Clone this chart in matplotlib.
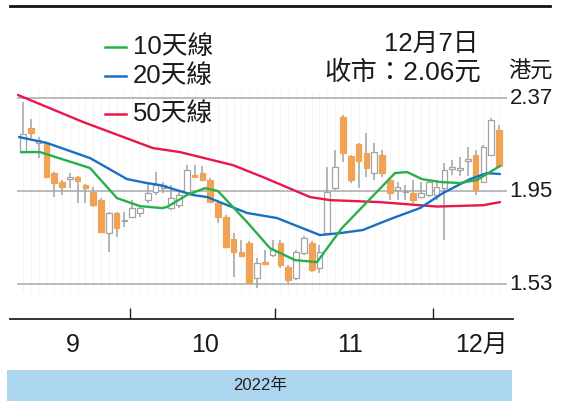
import matplotlib
matplotlib.use("Agg")
import matplotlib.pyplot as plt
from matplotlib.patches import Rectangle
from matplotlib.lines import Line2D

plt.rcParams['font.family'] = ['Liberation Sans', 'Noto Sans CJK TC', 'DejaVu Sans']

# ---- data ----
opens = [2.126, 2.234, 2.167, 2.167, 2.031, 1.991, 2.004, 2.013, 1.977, 1.945,
         1.909, 1.760, 1.851, 1.814, 1.833, 1.851, 1.909, 1.945, 1.963, 1.873,
         1.887, 1.945, 2.022, 2.031, 2.000, 1.896, 1.833, 1.733, 1.674, 1.715,
         1.557, 1.629, 1.661, 1.715, 1.607, 1.557, 1.670, 1.715, 1.602, 1.760,
         1.963, 2.284, 2.108, 2.162, 2.122, 2.031, 2.113, 2.000, 1.954, 1.945,
         1.941, 1.923, 1.932, 1.932, 1.963, 2.052, 2.048, 2.088, 2.113, 1.991,
         2.113, 2.225]
highs = [2.352, 2.275, 2.194, 2.171, 2.035, 2.000, 2.031, 2.017, 1.982, 1.968,
         1.918, 1.855, 1.855, 1.855, 1.909, 1.887, 1.991, 2.036, 1.991, 1.977,
         1.954, 2.067, 2.067, 2.063, 2.009, 1.900, 1.842, 1.760, 1.729, 1.724,
         1.647, 1.683, 1.729, 1.729, 1.616, 1.683, 1.747, 1.724, 1.706, 2.058,
         2.135, 2.293, 2.113, 2.167, 2.212, 2.167, 2.135, 2.009, 1.991, 1.977,
         2.000, 1.991, 2.000, 2.000, 2.076, 2.090, 2.104, 2.149, 2.135, 2.158,
         2.280, 2.248]
lows = [2.122, 2.189, 2.099, 2.009, 1.923, 1.932, 1.963, 1.896, 1.896, 1.878,
        1.760, 1.674, 1.742, 1.787, 1.828, 1.833, 1.896, 1.932, 1.941, 1.864,
        1.873, 1.932, 2.009, 2.000, 1.900, 1.805, 1.692, 1.562, 1.652, 1.530,
        1.512, 1.616, 1.652, 1.602, 1.534, 1.548, 1.661, 1.584, 1.580, 1.751,
        1.954, 2.081, 1.986, 1.963, 2.013, 2.000, 2.013, 1.909, 1.909, 1.909,
        1.896, 1.918, 1.923, 1.909, 1.729, 2.022, 2.018, 2.018, 1.932, 1.986,
        2.108, 2.060]
closes = [2.207, 2.212, 2.180, 2.013, 1.986, 1.968, 2.013, 1.995, 1.963, 1.887,
          1.765, 1.851, 1.783, 1.819, 1.873, 1.873, 1.941, 1.977, 1.977, 1.918,
          1.932, 2.045, 2.013, 2.000, 1.900, 1.833, 1.697, 1.674, 1.656, 1.534,
          1.625, 1.620, 1.683, 1.616, 1.548, 1.674, 1.738, 1.593, 1.674, 1.945,
          2.058, 2.122, 2.000, 2.085, 2.054, 2.126, 2.031, 1.941, 1.968, 1.950,
          1.909, 1.941, 1.991, 1.968, 2.045, 2.056, 2.052, 2.092, 1.954, 2.149,
          2.271, 2.063]

# moving-average lines: (candle position, price) points
ma10_x = [-0.26, 2.18, 8.59, 12.05, 14.99, 17.81, 18.45, 21.02, 23.32, 24.99,
          28.71, 31.65, 34.86, 37.68, 40.88, 47.67, 49.21, 51.13, 53.44, 56.0,
          58.18, 61.13]
ma10_y = [2.126, 2.126, 2.054, 1.918, 1.882, 1.873, 1.878, 1.932, 1.963, 1.950,
          1.810, 1.692, 1.638, 1.629, 1.783, 2.031, 2.036, 2.004, 1.991, 1.986,
          2.000, 2.063]
ma20_x = [-0.51, 3.08, 8.59, 13.33, 15.89, 17.56, 19.74, 21.79, 23.58, 28.71,
          32.55, 38.06, 40.63, 43.57, 45.75, 47.42, 50.88, 53.83, 57.29, 59.47,
          61.13]
ma20_y = [2.194, 2.167, 2.099, 2.004, 1.986, 1.977, 1.954, 1.932, 1.923, 1.851,
          1.828, 1.751, 1.760, 1.774, 1.805, 1.828, 1.873, 1.941, 2.004, 2.031,
          2.027]
ma50_x = [-0.64, 7.69, 16.66, 20.12, 26.91, 30.76, 36.78, 39.34, 45.75, 53.06,
          58.95, 61.13]
ma50_y = [2.384, 2.262, 2.144, 2.126, 2.067, 2.013, 1.923, 1.909, 1.900, 1.880,
          1.886, 1.900]

y_ticks = [2.37, 1.95, 1.53]
y_tick_labels = ["2.37", "1.95", "1.53"]
month_tick_pos = [13.71, 32.29, 52.54]
month_label_pos = [6.4, 23.3, 41.9, 58.8]
month_labels = ["9", "10", "11", "12月"]
legend_labels = ["10天線", "20天線", "50天線"]

# ---- figure ----
W, H = 565, 401
fig = plt.figure(figsize=(W / 100, H / 100), dpi=100)
fig.patch.set_facecolor('white')

def fx(x):
    return x / W

def fy(y):
    return 1 - y / H

ax = fig.add_axes([fx(10), fy(319), fx(513) - fx(10), fy(60) - fy(319)])
ax.set_xlim(-1.666, 62.80)
ax.set_ylim(1.372, 2.542)
for s in ['top', 'left', 'right']:
    ax.spines[s].set_visible(False)
ax.spines['bottom'].set_linewidth(1.3)
ax.spines['bottom'].set_color('#222222')
ax.set_yticks([])
ax.set_xticks(month_tick_pos)
ax.set_xticklabels([])
ax.tick_params(axis='x', direction='in', length=8, width=1.0, color='#222222')

n = len(opens)
idx = list(range(n))

# faint vertical grid at each candle
ax.vlines(idx, 1.50, 2.40, color='#f5f5f5', lw=0.8, zorder=0)
# horizontal reference lines
ax.hlines(y_ticks, -0.8, 62.0, color='#a8a8a8', lw=1.1, zorder=1)

# wicks
ax.vlines(idx, lows, highs, color='#a3a3a3', lw=1.1, zorder=2)

# bodies
orange = '#f0a355'
bottoms, heights, faces, edges = [], [], [], []
for o, c in zip(opens, closes):
    lo = min(o, c)
    h = abs(c - o)
    if h < 0.006:
        lo = (o + c) / 2 - 0.003
        h = 0.006
    bottoms.append(lo)
    heights.append(h)
    if c < o:
        faces.append(orange)
        edges.append(orange)
    else:
        faces.append('white')
        edges.append('#a3a3a3')
ax.bar(idx, heights, bottom=bottoms, width=0.72, color=faces,
       edgecolor=edges, linewidth=0.9, zorder=3)

# moving averages
c10, c20, c50 = '#27b04a', '#1670c4', '#e8174c'
ax.plot(ma50_x, ma50_y, color=c50, lw=1.7, zorder=4, solid_capstyle='round')
ax.plot(ma20_x, ma20_y, color=c20, lw=1.7, zorder=5, solid_capstyle='round')
ax.plot(ma10_x, ma10_y, color=c10, lw=1.7, zorder=6, solid_capstyle='round')

# y labels on right
for v, lab in zip(y_ticks, y_tick_labels):
    ax.text(62.35, v, lab, fontsize=16, va='center', ha='left', color='#1a1a1a',
            clip_on=False)

# month labels under axis
for p, lab in zip(month_label_pos, month_labels):
    ax.text(p, -0.1, lab, transform=ax.get_xaxis_transform(), fontsize=18,
            ha='center', va='center', color='#1a1a1a')

# top rule
fig.add_artist(Line2D([fx(10), fx(550)], [fy(6), fy(6)], color='#111111', lw=2))

# legend
for lab, col, y in zip(legend_labels, [c10, c20, c50], [47, 76, 114]):
    fig.add_artist(Line2D([fx(105), fx(126)], [fy(y), fy(y)], color=col, lw=1.8))
    fig.text(fx(133), fy(y), lab, fontsize=18.5, va='center', ha='left', color='#1a1a1a')

# header texts
fig.text(fx(478), fy(44), "12月7日", fontsize=18.5, ha='right', va='center', color='#1a1a1a')
fig.text(fx(481), fy(72), "收市：2.06元", fontsize=19, ha='right', va='center', color='#1a1a1a')
fig.text(fx(508), fy(72), "港元", fontsize=16, ha='left', va='center', color='#1a1a1a')

# bottom band
fig.add_artist(Rectangle((fx(7), fy(401)), fx(512) - fx(7), fy(370) - fy(401),
                         transform=fig.transFigure, facecolor='#acd5ef', edgecolor='none'))
fig.text(fx(260), fy(385), "2022年", fontsize=12, ha='center', va='center', color='#222222')

fig.savefig("out.png", dpi=100)
